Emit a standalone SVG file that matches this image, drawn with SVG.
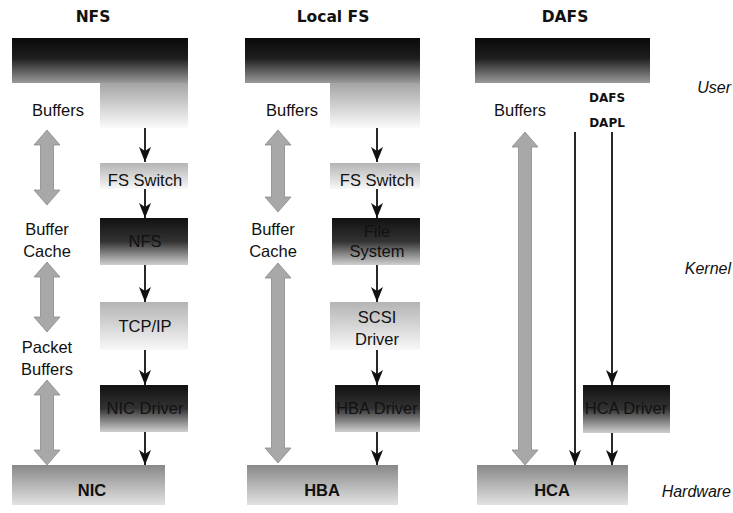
<svg xmlns="http://www.w3.org/2000/svg" width="733" height="513" viewBox="0 0 733 513">
<style>
.t{font-family:"Liberation Sans",Arial,sans-serif;font-size:16.5px;fill:#111;text-anchor:middle}
.tb{font-family:"Liberation Sans",Arial,sans-serif;font-size:16.5px;font-weight:bold;fill:#111;text-anchor:middle}
.h{font-family:"DejaVu Sans",Verdana,sans-serif;font-size:15.5px;font-weight:bold;fill:#111;text-anchor:middle}
.s{font-family:"DejaVu Sans",Verdana,sans-serif;font-size:12px;font-weight:bold;fill:#111;text-anchor:middle}
.lv{font-family:"Liberation Sans",Arial,sans-serif;font-size:16px;font-style:italic;fill:#111;text-anchor:end}
.dark{fill:url(#gDark)}
.light{fill:url(#gLight)}
.hw{fill:url(#gHw)}
.topb{fill:url(#gTop)}
.ext{fill:url(#gExt)}
.ln{stroke:#111;stroke-width:1.8;fill:none;marker-end:url(#ah)}
.ga{fill:#a8a8a8;stroke:#8a8a8a;stroke-width:0.8}
</style>
<defs>
<linearGradient id="gDark" x1="0" y1="0" x2="0" y2="1">
<stop offset="0" stop-color="#111"/><stop offset="0.5" stop-color="#333"/><stop offset="1" stop-color="#cfcfcf"/>
</linearGradient>
<linearGradient id="gLight" x1="0" y1="0" x2="0" y2="1">
<stop offset="0" stop-color="#b4b4b4"/><stop offset="1" stop-color="#f8f8f8"/>
</linearGradient>
<linearGradient id="gHw" x1="0" y1="0" x2="0" y2="1">
<stop offset="0" stop-color="#888"/><stop offset="1" stop-color="#e2e2e2"/>
</linearGradient>
<linearGradient id="gTop" x1="0" y1="0" x2="0" y2="1">
<stop offset="0" stop-color="#0a0a0a"/><stop offset="0.45" stop-color="#1e1e1e"/><stop offset="1" stop-color="#9a9a9a"/>
</linearGradient>
<linearGradient id="gExt" x1="0" y1="0" x2="0" y2="1">
<stop offset="0" stop-color="#a4a4a4"/><stop offset="1" stop-color="#fbfbfb"/>
</linearGradient>
<marker id="ah" viewBox="0 0 15 12" refX="15" refY="6" markerWidth="15" markerHeight="12" markerUnits="userSpaceOnUse" orient="auto">
<path d="M0,0 L15,6 L0,12 L4,6 z" fill="#111"/>
</marker>
</defs>

<g id="titles">
<text class="h" x="93" y="22">NFS</text>
<text class="h" x="333" y="22">Local FS</text>
<text class="h" x="565" y="22">DAFS</text>
</g>

<g id="levels">
<text class="lv" x="731" y="93">User</text>
<text class="lv" x="731" y="274">Kernel</text>
<text class="lv" x="731" y="497">Hardware</text>
</g>

<!-- NFS column -->
<g id="nfs-app"><rect class="topb" x="12" y="38" width="176" height="45"/><rect class="ext" x="100" y="83" width="88" height="45"/></g>
<g id="nfs-buffers"><text class="t" x="58" y="116">Buffers</text></g>
<g id="nfs-buffer-cache"><text class="t" x="47" y="235">Buffer</text><text class="t" x="47" y="257">Cache</text></g>
<g id="nfs-packet-buffers"><text class="t" x="47" y="353">Packet</text><text class="t" x="47" y="375">Buffers</text></g>
<g id="nfs-fsswitch"><rect class="light" x="100" y="163" width="88" height="26"/><text class="t" x="145" y="186">FS Switch</text></g>
<g id="nfs-nfs"><rect class="dark" x="100" y="218" width="88" height="47"/><text class="t" x="145" y="247">NFS</text></g>
<g id="nfs-tcpip"><rect class="light" x="100" y="302" width="88" height="48"/><text class="t" x="145" y="332">TCP/IP</text></g>
<g id="nfs-nicdriver"><rect class="dark" x="100" y="385" width="88" height="47"/><text class="t" x="145" y="414">NIC Driver</text></g>
<g id="nfs-nic"><rect class="hw" x="12" y="465" width="153" height="40"/><text class="tb" x="92" y="496">NIC</text></g>

<!-- Local FS column -->
<g id="lfs-app"><rect class="topb" x="245" y="38" width="175" height="45"/><rect class="ext" x="330" y="83" width="90" height="45"/></g>
<g id="lfs-buffers"><text class="t" x="292" y="116">Buffers</text></g>
<g id="lfs-buffer-cache"><text class="t" x="273" y="235">Buffer</text><text class="t" x="273" y="257">Cache</text></g>
<g id="lfs-fsswitch"><rect class="light" x="330" y="163" width="90" height="26"/><text class="t" x="377" y="186">FS Switch</text></g>
<g id="lfs-filesystem"><rect class="dark" x="332" y="218" width="88" height="47"/><text class="t" x="377" y="237">File</text><text class="t" x="377" y="257">System</text></g>
<g id="lfs-scsi"><rect class="light" x="330" y="302" width="90" height="48"/><text class="t" x="377" y="323">SCSI</text><text class="t" x="377" y="345">Driver</text></g>
<g id="lfs-hbadriver"><rect class="dark" x="335" y="385" width="85" height="47"/><text class="t" x="377" y="414">HBA Driver</text></g>
<g id="lfs-hba"><rect class="hw" x="247" y="465" width="151" height="40"/><text class="tb" x="322" y="496">HBA</text></g>

<!-- DAFS column -->
<g id="dafs-app"><rect class="topb" x="475" y="38" width="175" height="45"/></g>
<g id="dafs-buffers"><text class="t" x="520" y="116">Buffers</text></g>
<g id="dafs-dapl"><text class="s" x="607" y="102">DAFS</text><text class="s" x="607" y="127">DAPL</text></g>
<g id="dafs-hcadriver"><rect class="dark" x="583" y="385" width="87" height="48"/><text class="t" x="626" y="414">HCA Driver</text></g>
<g id="dafs-hca"><rect class="hw" x="477" y="465" width="151" height="40"/><text class="tb" x="552" y="496">HCA</text></g>

<g id="connectors">
<!-- gray double block arrows -->
<path class="ga" d="M47,130 L60,145 L53.5,145 L53.5,190 L60,190 L47,205 L34,190 L40.5,190 L40.5,145 L34,145 Z"/>
<path class="ga" d="M47,262 L60,277 L53.5,277 L53.5,317 L60,317 L47,332 L34,317 L40.5,317 L40.5,277 L34,277 Z"/>
<path class="ga" d="M47,380 L60,395 L53.5,395 L53.5,450 L60,450 L47,465 L34,450 L40.5,450 L40.5,395 L34,395 Z"/>
<path class="ga" d="M278,130 L291,145 L284.5,145 L284.5,197 L291,197 L278,212 L265,197 L271.5,197 L271.5,145 L265,145 Z"/>
<path class="ga" d="M278,263 L291,278 L284.5,278 L284.5,448 L291,448 L278,463 L265,448 L271.5,448 L271.5,278 L265,278 Z"/>
<path class="ga" d="M525,132 L538,147 L531.5,147 L531.5,450 L538,450 L525,465 L512,450 L518.5,450 L518.5,147 L512,147 Z"/>
<!-- black arrows NFS -->
<line class="ln" x1="145" y1="128" x2="145" y2="162"/>
<line class="ln" x1="145" y1="189" x2="145" y2="218"/>
<line class="ln" x1="145" y1="265" x2="145" y2="302"/>
<line class="ln" x1="145" y1="350" x2="145" y2="385"/>
<line class="ln" x1="145" y1="432" x2="145" y2="465"/>
<!-- black arrows Local FS -->
<line class="ln" x1="377" y1="128" x2="377" y2="162"/>
<line class="ln" x1="377" y1="189" x2="377" y2="218"/>
<line class="ln" x1="377" y1="265" x2="377" y2="302"/>
<line class="ln" x1="377" y1="350" x2="377" y2="385"/>
<line class="ln" x1="377" y1="432" x2="377" y2="465"/>
<!-- DAFS -->
<line class="ln" x1="575" y1="132" x2="575" y2="465"/>
<line class="ln" x1="612" y1="132" x2="612" y2="385"/>
<line class="ln" x1="612" y1="433" x2="612" y2="465"/>
</g>
</svg>
